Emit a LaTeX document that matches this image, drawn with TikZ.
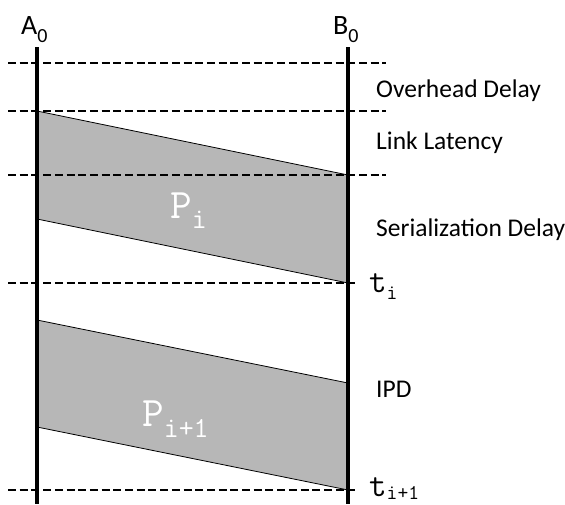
\documentclass[tikz,border=0pt]{standalone}
\usepackage{fontspec}
\setmainfont{Carlito}
\definecolor{pktgray}{RGB}{183,183,183}
\newcommand{\lowsub}[3]{\raisebox{-#1}{\fontsize{#2}{#2}\selectfont #3}}
\begin{document}
\begin{tikzpicture}[x=1pt, y=-1pt,
        lifeline/.style={line width=4pt},
        timeline/.style={line width=2pt, dash pattern=on 8pt off 3.7pt},
        endlabel/.style={anchor=base west, inner sep=0pt, font=\fontsize{28}{30}\selectfont},
        delaylabel/.style={anchor=base west, inner sep=0pt, font=\fontsize{25.5}{30}\selectfont},
        timelabel/.style={anchor=base west, inner sep=0pt, font=\ttfamily\fontsize{34}{36}\selectfont},
        pktlabel/.style={anchor=base west, inner sep=0pt, text=white, font=\ttfamily\fontsize{42}{44}\selectfont}
    ]
    \useasboundingbox (0,0) rectangle (565,504);

    % end points
    \node[endlabel] (a0) at (21,34) {A\lowsub{8pt}{20}{0}};
    \node[endlabel] (b0) at (333,34) {B\lowsub{8pt}{20}{0}};
    \coordinate (a-top) at (37,47);
    \coordinate (a-bot) at (37,504);
    \coordinate (b-top) at (348,47);
    \coordinate (b-bot) at (348,504);

    % packets
    \coordinate (p1-a) at (37,111);
    \coordinate (p1-b) at (348,175);
    \coordinate (p1-c) at (348,283);
    \coordinate (p1-d) at (37,219);
    \coordinate (p2-a) at (37,320);
    \coordinate (p2-b) at (348,383);
    \coordinate (p2-c) at (348,490);
    \coordinate (p2-d) at (37,427);
    \fill[pktgray] (p1-a) -- (p1-b) -- (p1-c) -- (p1-d) -- cycle;
    \draw[line width=0.8pt] (p1-a) -- (p1-b) (p1-d) -- (p1-c);
    \fill[pktgray] (p2-a) -- (p2-b) -- (p2-c) -- (p2-d) -- cycle;
    \draw[line width=0.8pt] (p2-a) -- (p2-b) (p2-d) -- (p2-c);
    \node[pktlabel] (pi) at (170,218) {P\lowsub{10pt}{29}{i}};
    \node[pktlabel] (pn) at (142,426) {P\lowsub{11pt}{29}{i+1}};

    % time marks
    \foreach \n/\y/\xe in {oh/63/386, ll/111/386, sd/175/386, ti/283/357, tn/490/357} {
        \coordinate (\n-l) at (8,\y);
        \coordinate (\n-r) at (\xe,\y);
        \draw[timeline] (\n-l) -- (\n-r);
    }

    \draw[lifeline] (a-top) -- (a-bot);
    \draw[lifeline] (b-top) -- (b-bot);

    % labels
    \node[delaylabel] (ohd) at (376,97) {Overhead Delay};
    \node[delaylabel] (lat) at (376,149) {Link Latency};
    \node[delaylabel] (ser) at (376,236) {Serialization Delay};
    \node[delaylabel] (ipd) at (376,397) {IPD};
    \node[timelabel] (ti) at (369,292) {t\lowsub{7pt}{21}{i}};
    \node[timelabel] (tn) at (369,496) {t\lowsub{3pt}{21}{i+1}};
\end{tikzpicture}
\end{document}
